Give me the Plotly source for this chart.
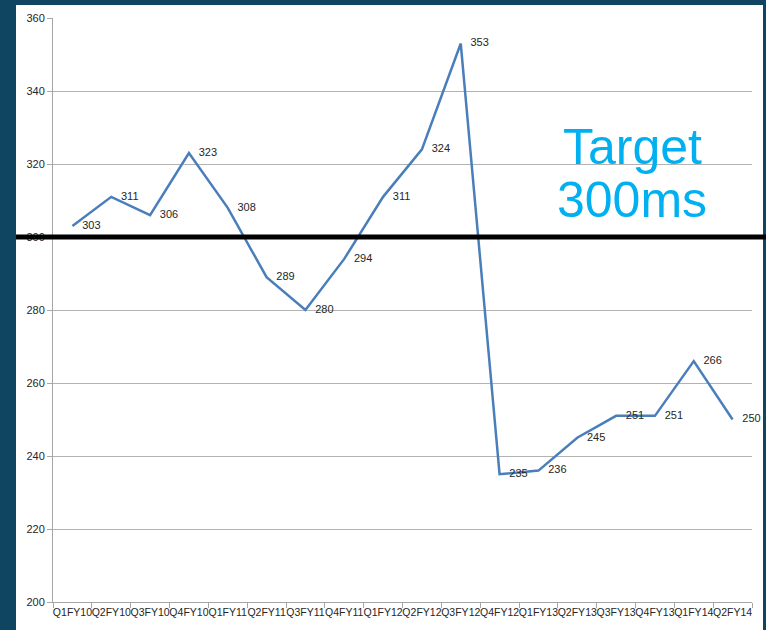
import plotly.graph_objects as go

categories = ["Q1FY10", "Q2FY10", "Q3FY10", "Q4FY10", "Q1FY11", "Q2FY11",
              "Q3FY11", "Q4FY11", "Q1FY12", "Q2FY12", "Q3FY12", "Q4FY12",
              "Q1FY13", "Q2FY13", "Q3FY13", "Q4FY13", "Q1FY14", "Q2FY14"]
values = [303, 311, 306, 323, 308, 289, 280, 294, 311, 324, 353, 235,
          236, 245, 251, 251, 266, 250]
target = 300
y_ticks = [200, 220, 240, 260, 280, 300, 320, 340, 360]

W, H = 766, 630
L, R, T, B = 53, 14, 16, 28
pw, ph = W - L - R, H - T - B


def px_x(p):
    return (p - L) / pw


def px_y(p):
    return (H - B - p) / ph


fig = go.Figure()
fig.add_trace(go.Scatter(
    x=categories, y=values, mode="lines+markers+text",
    text=[str(v) for v in values], textposition="middle right",
    textfont=dict(family="Liberation Sans", size=11, color="#262626"),
    line=dict(color="#4a7ebb", width=2.5),
    marker=dict(size=14, color="rgba(0,0,0,0)"),
    cliponaxis=False, showlegend=False, hoverinfo="x+y",
))

fig.update_layout(
    width=W, height=H,
    margin=dict(l=L, r=R, t=T, b=B),
    paper_bgcolor="#0f4560",
    plot_bgcolor="rgba(0,0,0,0)",
    font=dict(family="Liberation Sans", color="#262626"),
    shapes=[
        dict(type="rect", xref="paper", yref="paper",
             x0=px_x(16), x1=px_x(763), y0=px_y(H), y1=px_y(3),
             fillcolor="white", line=dict(width=0), layer="below"),
        dict(type="line", xref="paper", yref="y",
             x0=px_x(16), x1=px_x(W), y0=target, y1=target,
             line=dict(color="black", width=5), layer="above"),
    ],
    annotations=[
        dict(text="Target", xref="paper", yref="paper",
             x=px_x(632), y=px_y(145), xanchor="center", yanchor="middle",
             showarrow=False,
             font=dict(family="Liberation Sans", size=50, color="#00b0f0")),
        dict(text="300ms", xref="paper", yref="paper",
             x=px_x(632), y=px_y(199), xanchor="center", yanchor="middle",
             showarrow=False,
             font=dict(family="Liberation Sans", size=50, color="#00b0f0")),
    ],
)

fig.update_xaxes(
    type="category", tickangle=0, showgrid=False,
    showline=True, linecolor="#a6a6a6", linewidth=1,
    ticks="outside", tickson="boundaries", ticklen=5, tickcolor="#a6a6a6",
    tickfont=dict(family="Liberation Sans", size=10.5, color="#262626"),
    range=[-0.5, len(categories) - 0.5],
)
fig.update_yaxes(
    range=[200, 360], tickvals=y_ticks,
    showgrid=True, gridcolor="#b3b3b3", gridwidth=1, zeroline=False,
    showline=True, linecolor="#a6a6a6", linewidth=1,
    ticks="outside", ticklen=5, tickcolor="#a6a6a6",
    tickfont=dict(family="Liberation Sans", size=11, color="#262626"),
)

fig.write_html("out.html",
               config={"displayModeBar": False},
               post_script="document.body.style.margin='0';"
                           "document.body.style.padding='0';"
                           "document.body.style.overflow='hidden';")
